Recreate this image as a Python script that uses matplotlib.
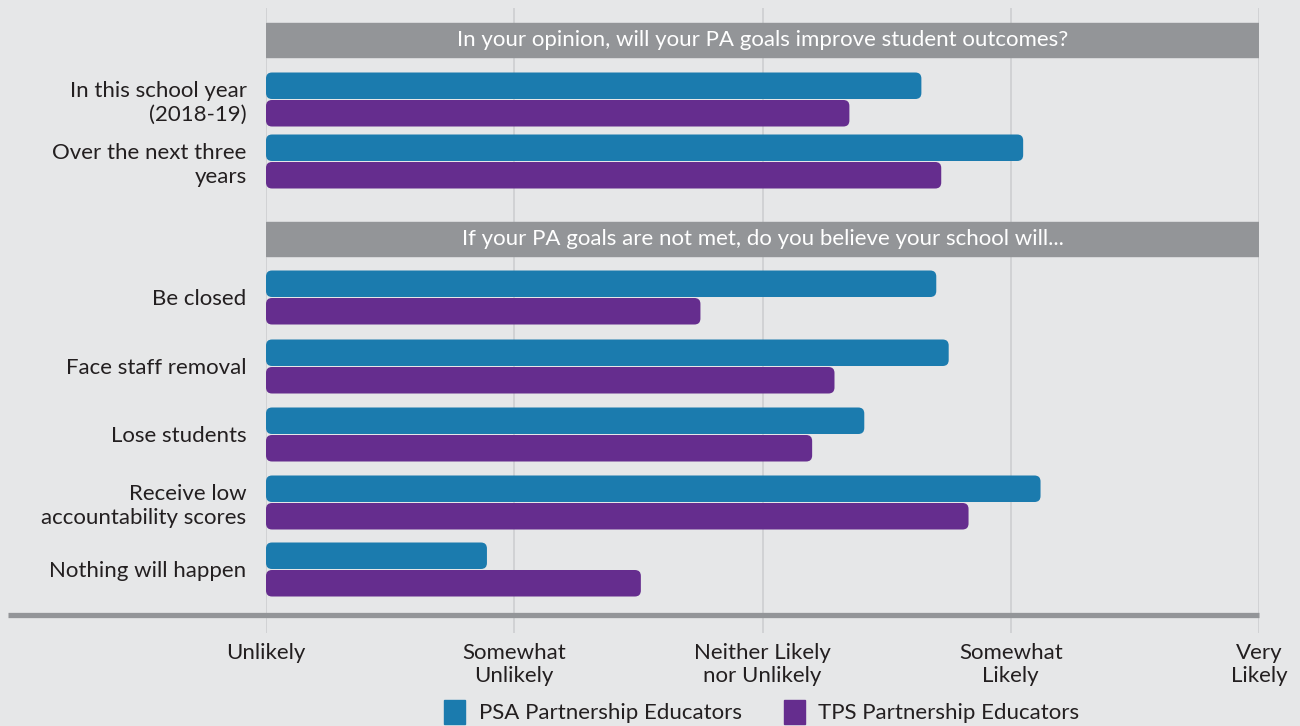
import matplotlib
matplotlib.use("Agg")
import matplotlib.pyplot as plt
from matplotlib.patches import FancyBboxPatch, Rectangle, Patch
from matplotlib.lines import Line2D

plt.rcParams['font.family'] = ['Lato', 'DejaVu Sans']

# 1 = Unlikely ... 5 = Very Likely
scale_labels = ['Unlikely', 'Somewhat\nUnlikely', 'Neither Likely\nnor Unlikely',
                'Somewhat\nLikely', 'Very\nLikely']
series_names = ['PSA Partnership Educators', 'TPS Partnership Educators']

headers = ['In your opinion, will your PA goals improve student outcomes?',
           'If your PA goals are not met, do you believe your school will...']

categories = ['In this school year\n(2018-19)', 'Over the next three\nyears',
              'Be closed', 'Face staff removal', 'Lose students',
              'Receive low\naccountability scores', 'Nothing will happen']
psa = [3.64, 4.05, 3.70, 3.75, 3.41, 4.12, 1.89]
tps = [3.35, 3.72, 2.75, 3.29, 3.20, 3.83, 2.51]

# layout (y in pixels from the top of the figure)
row_y = [99.5, 161.5, 297.5, 366.5, 434.5, 502.5, 569.5]
header_y = [23, 222]
header_h = 34
bar_h = 26.5

bg = '#E6E7E8'
band = '#939598'
blue = '#1B7BAE'
purple = '#652D8E'
txt = '#231F20'
fs = 16

W, H = 1300, 726
fig = plt.figure(figsize=(13, 7.26), dpi=100, facecolor=bg)
ax = fig.add_axes([266 / W, 1 - 633 / H, (1259 - 266) / W, (633 - 8) / H])
ax.set_facecolor(bg)
ax.set_xlim(1, 5)
ax.set_ylim(633, 8)
for s in ax.spines.values():
    s.set_visible(False)

ax.set_xticks(range(1, 6))
ax.set_xticklabels(scale_labels, fontsize=fs, color=txt, linespacing=1.2, va='top')
ax.tick_params(axis='x', length=0, pad=7)
ax.set_yticks(row_y)
ax.set_yticklabels(categories, fontsize=fs, color=txt, linespacing=1.2)
ax.tick_params(axis='y', length=0, pad=14)
ax.grid(axis='x', color='#CDCED0', lw=1.2)
ax.set_axisbelow(True)

# grey section headers
for hy, label in zip(header_y, headers):
    ax.add_patch(Rectangle((1, hy), 4, header_h, color=band, zorder=2))
    ax.text(3, hy + header_h / 2, label, color='white', fontsize=fs,
            ha='center', va='center', zorder=3)

# bars, then swap each for a rounded version
px_per_unit = (1259 - 266) / 4
radius = 6
y_psa = [y - bar_h / 2 - 0.5 for y in row_y]
y_tps = [y + bar_h / 2 + 0.5 for y in row_y]
for ys, vals, col in [(y_psa, psa, blue), (y_tps, tps, purple)]:
    bars = ax.barh(ys, [v - 1 for v in vals], left=1, height=bar_h, color=col)
    for b in bars:
        x0, y0 = b.get_x(), b.get_y()
        w, h = b.get_width(), b.get_height()
        b.remove()
        ax.add_patch(FancyBboxPatch(
            (x0, y0), w, h,
            boxstyle=f'round,pad=0,rounding_size={radius / px_per_unit}',
            mutation_aspect=px_per_unit, color=col, lw=0, zorder=3))

# thick baseline
fig.add_artist(Line2D([8 / W, 1259 / W], [1 - 615 / H] * 2, color=band,
                      lw=3.8, solid_capstyle='butt', transform=fig.transFigure))

handles = [Patch(color=blue), Patch(color=purple)]
fig.legend(handles, series_names, loc='center', bbox_to_anchor=(762 / W, 1 - 712 / H),
           ncol=2, frameon=False, fontsize=fs, handlelength=0.95, handleheight=1.3,
           handletextpad=0.6, columnspacing=1.9, labelcolor=txt)

fig.savefig('out.png', dpi=100, facecolor=bg)
